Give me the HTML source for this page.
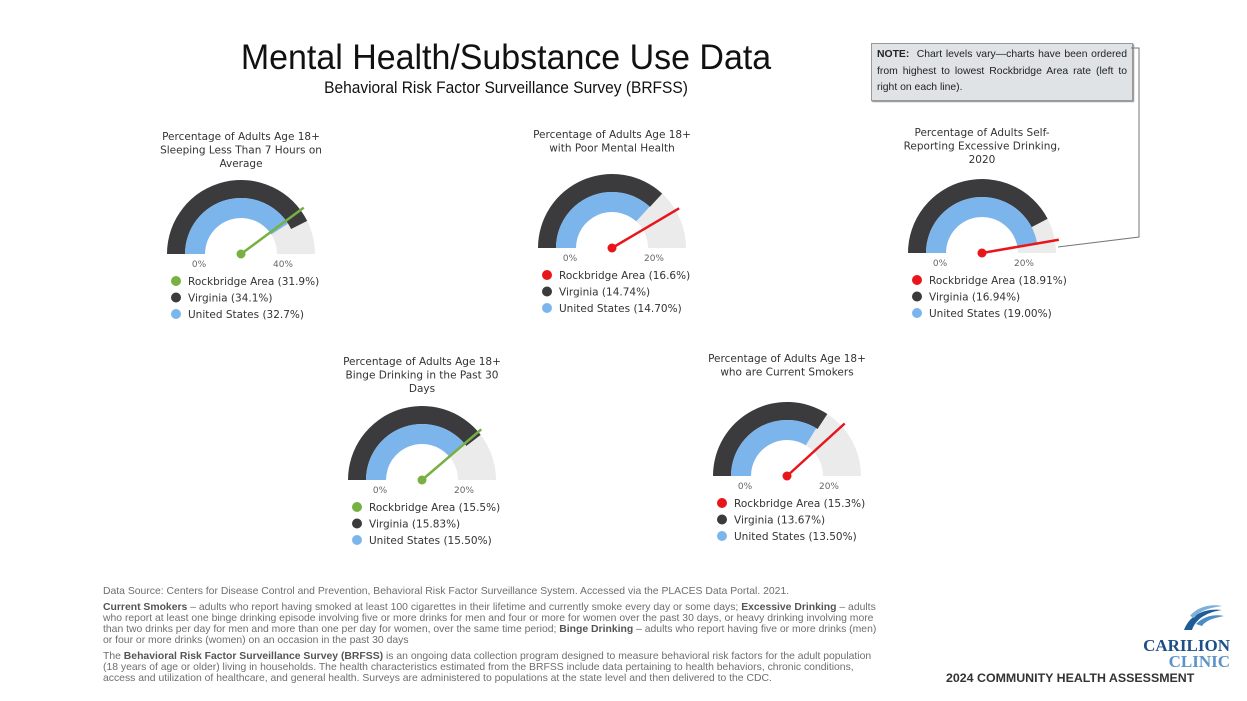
<!DOCTYPE html>
<html><head><meta charset="utf-8"><style>
body{margin:0;width:1247px;height:701px;background:#fff;position:relative;overflow:hidden;font-family:"Liberation Sans",sans-serif;}
.abs{position:absolute;}
.ft{position:absolute;left:103px;font-size:10.4px;color:#6e6e6e;white-space:nowrap;}
.ft b{color:#555;}
</style></head><body>
<div class="abs" style="left:206px;top:38px;width:600px;text-align:center;font-size:35px;color:#111;transform:scaleX(0.97);">Mental Health/Substance Use Data</div>
<div class="abs" style="left:206px;top:79px;width:600px;text-align:center;font-size:16.5px;color:#111;transform:scaleX(0.94);">Behavioral Risk Factor Surveillance Survey (BRFSS)</div>
<div class="abs" style="left:871px;top:43px;width:250px;height:50px;background:#dfe3e6;border:1px solid #999;box-shadow:1px 1px 1px #888;padding:3px 5px;font-size:10.4px;line-height:16.5px;color:#222;text-align:justify;"><b>NOTE:</b>&nbsp; Chart levels vary—charts have been ordered from highest to lowest Rockbridge Area rate (left to right on each line).</div>
<svg class="abs" style="left:0;top:0" width="1247" height="701">
<polyline points="1131,48 1139,48 1139,237 1058,247" fill="none" stroke="#777" stroke-width="1"/>
<g id="g"></g>
</svg>
<div class="ft" style="top:586px">Data Source: Centers for Disease Control and Prevention, Behavioral Risk Factor Surveillance System. Accessed via the PLACES Data Portal. 2021.</div>
<div class="ft" style="top:602px"><b>Current Smokers</b> – adults who report having smoked at least 100 cigarettes in their lifetime and currently smoke every day or some days; <b>Excessive Drinking</b> – adults</div>
<div class="ft" style="top:613px">who report at least one binge drinking episode involving five or more drinks for men and four or more for women over the past 30 days, or heavy drinking involving more</div>
<div class="ft" style="top:624px">than two drinks per day for men and more than one per day for women, over the same time period; <b>Binge Drinking</b> – adults who report having five or more drinks (men)</div>
<div class="ft" style="top:635px">or four or more drinks (women) on an occasion in the past 30 days</div>
<div class="ft" style="top:651px">The <b>Behavioral Risk Factor Surveillance Survey (BRFSS)</b> is an ongoing data collection program designed to measure behavioral risk factors for the adult population</div>
<div class="ft" style="top:662px">(18 years of age or older) living in households. The health characteristics estimated from the BRFSS include data pertaining to health behaviors, chronic conditions,</div>
<div class="ft" style="top:673px">access and utilization of healthcare, and general health. Surveys are administered to populations at the state level and then delivered to the CDC.</div>
<svg class="abs" style="left:1176px;top:602px" width="50" height="32">
<path d="M8,28 C14,12 30,6 46,8 C32,10 20,16 16,28Z" fill="#1d5c96"/>
<path d="M14,14 C22,4 36,2 46,4 C34,6 24,8 18,16Z" fill="#7fb0d8"/>
<path d="M20,22 C28,14 38,12 48,14 C38,16 30,18 26,24Z" fill="#4a8cc4"/>
</svg>
<div class="abs" style="left:1130px;top:636px;width:100px;text-align:right;font-family:'Liberation Serif',serif;font-weight:bold;font-size:17px;color:#1d4f86;">CARILION</div>
<div class="abs" style="left:1130px;top:652px;width:100px;text-align:right;font-family:'Liberation Serif',serif;font-weight:bold;font-size:17px;color:#5b93c9;">CLINIC</div>
<div class="abs" style="left:946px;top:671px;font-size:12.4px;font-weight:bold;color:#333;">2024 COMMUNITY HEALTH ASSESSMENT</div>
<script>
const titles=[["Percentage of Adults Age 18+","Sleeping Less Than 7 Hours on","Average"],["Percentage of Adults Age 18+","with Poor Mental Health"],["Percentage of Adults Self-","Reporting Excessive Drinking,","2020"],["Percentage of Adults Age 18+","Binge Drinking in the Past 30","Days"],["Percentage of Adults Age 18+","who are Current Smokers"]];
const maxVals=[40,20,20,20,20];
const maxLabels=["40%","20%","20%","20%","20%"];
const rockbridge=[31.9,16.6,18.91,15.5,15.3];
const virginia=[34.1,14.74,16.94,15.83,13.67];
const us=[32.7,14.70,19.00,15.50,13.50];
const rbLabels=["31.9%","16.6%","18.91%","15.5%","15.3%"];
const vaLabels=["34.1%","14.74%","16.94%","15.83%","13.67%"];
const usLabels=["32.7%","14.70%","19.00%","15.50%","13.50%"];
const needleColors=["#78b043","#e8161b","#e8161b","#78b043","#e8161b"];
const layout=[{cx:241,cy:254,ty:140},{cx:612,cy:248,ty:138},{cx:982,cy:253,ty:136},{cx:422,cy:480,ty:365},{cx:787,cy:476,ty:362}];
const NS="http://www.w3.org/2000/svg";
const root=document.getElementById('g');
function mk(t,a){const e=document.createElementNS(NS,t);for(const k in a)e.setAttribute(k,a[k]);return e;}
function ang(v,m){return Math.PI*(1-Math.min(v,m)/m);}
function pt(cx,cy,r,a){return [cx+r*Math.cos(a),cy-r*Math.sin(a)];}
function band(cx,cy,r1,r2,a){const p1=pt(cx,cy,r2,Math.PI),p2=pt(cx,cy,r2,a),p3=pt(cx,cy,r1,a),p4=pt(cx,cy,r1,Math.PI);
return `M${p1[0]},${p1[1]} A${r2},${r2} 0 0 1 ${p2[0]},${p2[1]} L${p3[0]},${p3[1]} A${r1},${r1} 0 0 0 ${p4[0]},${p4[1]}Z`;}
layout.forEach((L,i)=>{
 const {cx,cy,ty}=L, m=maxVals[i];
 const g=mk('g',{});
 
 
 titles[i].forEach((t,j)=>{const tx=mk('text',{x:cx,y:ty+j*13.5,'text-anchor':'middle','font-size':'10.5','fill':'#333','font-family':'DejaVu Sans, sans-serif'});tx.textContent=t;
  
  
  g.appendChild(tx);});
 const bg=mk('path',{d:band(cx,cy,36,74,0),fill:'#ebebeb'});
 
 
 g.appendChild(bg);
 const va=mk('path',{d:band(cx,cy,56,74,ang(virginia[i],m)),fill:'#3b3b3e'});
 
 
 g.appendChild(va);
 const ua=mk('path',{d:band(cx,cy,36,56,ang(us[i],m)),fill:'#7cb5ec'});
 
 
 g.appendChild(ua);
 const tip=pt(cx,cy,78,ang(rockbridge[i],m));
 const nd=mk('line',{x1:cx,y1:cy,x2:tip[0],y2:tip[1],stroke:needleColors[i],'stroke-width':2.5});
 
 
 g.appendChild(nd);
 const dot=mk('circle',{cx:cx,cy:cy,r:4.5,fill:needleColors[i]});
 
 
 g.appendChild(dot);
 [["0%",cx-42],[maxLabels[i],cx+42]].forEach(([t,x])=>{const tx=mk('text',{x:x,y:cy+13,'text-anchor':'middle','font-size':'9','fill':'#666','font-family':'DejaVu Sans, sans-serif'});tx.textContent=t;
  
  
  g.appendChild(tx);});
 const items=[["Rockbridge Area ("+rbLabels[i]+")",needleColors[i]],["Virginia ("+vaLabels[i]+")","#3b3b3e"],["United States ("+usLabels[i]+")","#7cb5ec"]];
 items.forEach((it,j)=>{const ly=cy+27+j*16.5;const lg=mk('g',{});
  
  
  lg.appendChild(mk('circle',{cx:cx-65,cy:ly,r:5,fill:it[1]}));
  const tx=mk('text',{x:cx-53,y:ly+4,'font-size':'10.5','fill':'#333','font-family':'DejaVu Sans, sans-serif'});tx.textContent=it[0];lg.appendChild(tx);g.appendChild(lg);});
 root.appendChild(g);
});
</script>
</body></html>
